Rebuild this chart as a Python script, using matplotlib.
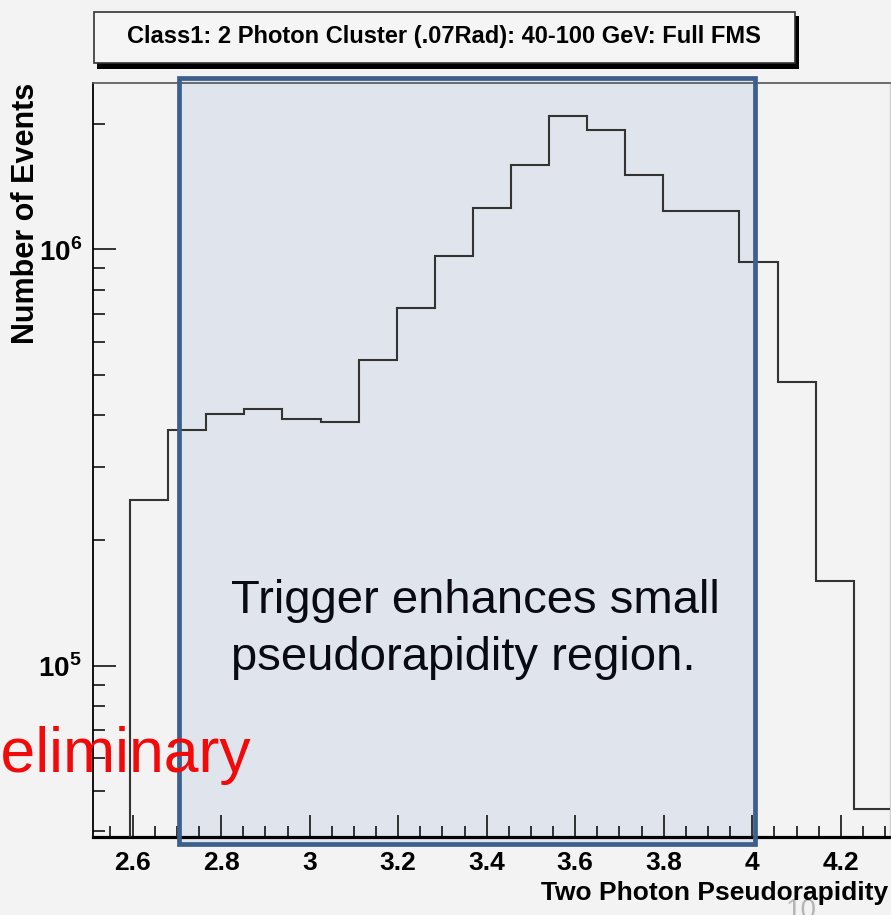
import math
import matplotlib
matplotlib.use("Agg")
import matplotlib.pyplot as plt
from matplotlib.patches import Rectangle
from matplotlib.ticker import MultipleLocator, LogLocator, NullFormatter, FuncFormatter

# Two photon cluster pseudorapidity, 40-100 GeV, full FMS
edges = [2.594, 2.680, 2.766, 2.852, 2.938, 3.025, 3.111, 3.197, 3.283,
         3.369, 3.455, 3.541, 3.627, 3.713, 3.799, 3.885, 3.971, 4.058,
         4.144, 4.230, 4.316]
counts = [2.50e5, 3.68e5, 4.03e5, 4.13e5, 3.91e5, 3.85e5, 5.43e5, 7.24e5,
          9.66e5, 1.258e6, 1.594e6, 2.094e6, 1.937e6, 1.506e6, 1.234e6,
          1.234e6, 9.34e5, 4.81e5, 1.60e5, 4.53e4]

title = "Class1: 2 Photon Cluster (.07Rad): 40-100 GeV: Full FMS"
xlabel = "Two Photon Pseudorapidity"
ylabel = "Number of Events"
note = ["Trigger enhances small", "pseudorapidity region."]

sans = ["Liberation Sans", "DejaVu Sans"]
plt.rcParams["font.family"] = sans
plt.rcParams["mathtext.fontset"] = "custom"
plt.rcParams["mathtext.rm"] = "Liberation Sans:bold"
plt.rcParams["mathtext.bf"] = "Liberation Sans:bold"

W, H = 891, 915
bg = "#f3f3f3"
fig = plt.figure(figsize=(W / 100, H / 100), dpi=100, facecolor=bg)

def fx(px):
    return px / W

def fy(py):
    return 1 - py / H

ax = fig.add_axes([fx(93), fy(837), fx(890) - fx(93), fy(83) - fy(837)])
ax.set_facecolor("none")
ax.set_yscale("log")
ax.stairs(counts, edges, baseline=1e4, color="#333333", lw=1.5, zorder=3)
ax.set_xlim(2.5105, 4.3112)
ax.set_ylim(3.878e4, 2.508e6)

ax.xaxis.set_major_locator(MultipleLocator(0.2))
ax.xaxis.set_minor_locator(MultipleLocator(0.05))
ax.xaxis.set_major_formatter(FuncFormatter(lambda v, p: "%g" % round(v, 2)))
ax.yaxis.set_major_locator(LogLocator(base=10))
ax.yaxis.set_minor_locator(LogLocator(base=10, subs=range(2, 10)))
ax.yaxis.set_minor_formatter(NullFormatter())
ax.yaxis.set_major_formatter(FuncFormatter(lambda v, p: r"$10^{%d}$" % round(math.log10(v))))

ax.tick_params(axis="x", which="major", direction="in", length=16, width=1.1, pad=10, labelsize=19)
ax.tick_params(axis="x", which="minor", direction="in", length=8, width=1.1)
ax.tick_params(axis="y", which="major", direction="in", length=16.5, width=1.1, pad=8, labelsize=20)
ax.tick_params(axis="y", which="minor", direction="in", length=8.5, width=1.1)
for lab in ax.get_xticklabels() + ax.get_yticklabels():
    lab.set_fontweight("bold")

ax.spines["left"].set_linewidth(1.3)
ax.spines["bottom"].set_linewidth(2.3)
ax.spines["top"].set_linewidth(1.2)
ax.spines["top"].set_color("#555555")
ax.spines["right"].set_linewidth(1.0)
ax.spines["right"].set_color("#cfcfcf")

# highlighted region behind the histogram, outline on top
fig.patches.append(Rectangle((fx(179), fy(844)), fx(755) - fx(179), fy(77.5) - fy(844),
                             transform=fig.transFigure, facecolor="#e0e5ed",
                             edgecolor="none", zorder=-1))
fig.patches.append(Rectangle((fx(179), fy(844)), fx(755) - fx(179), fy(77.5) - fy(844),
                             transform=fig.transFigure, fill=False,
                             edgecolor="#3c5f8c", lw=3.4, zorder=5))

# title box with drop shadow
fig.patches.append(Rectangle((fx(97), fy(69)), fx(799) - fx(97), fy(16) - fy(69),
                             transform=fig.transFigure, facecolor="black",
                             edgecolor="none", zorder=6))
fig.patches.append(Rectangle((fx(94), fy(63)), fx(795) - fx(94), fy(12) - fy(63),
                             transform=fig.transFigure, facecolor="#f5f5f5",
                             edgecolor="#333333", lw=1.2, zorder=7))
fig.text(fx(444), fy(36), title, ha="center", va="center", fontsize=17,
         fontweight="bold", zorder=8)

fig.text(fx(26), fy(83), ylabel, rotation=90, ha="center", va="top",
         fontsize=22, fontweight="bold")
fig.text(fx(801), fy(898), "10", ha="center", va="top", fontsize=20,
         color="#b5b5b5", zorder=1)
fig.text(fx(888), fy(893), xlabel, ha="right", va="center", fontsize=19,
         fontweight="bold", zorder=4)

fig.text(fx(231), fy(613), note[0], ha="left", va="baseline", fontsize=34,
         color="#0a0a14", zorder=6)
fig.text(fx(231), fy(670), note[1], ha="left", va="baseline", fontsize=34,
         color="#0a0a14", zorder=6)
fig.text(fx(252), fy(772), "Preliminary", ha="right", va="baseline", fontsize=45,
         color="#f20a0a", zorder=6)

fig.savefig("out.png", dpi=100, facecolor=bg)
